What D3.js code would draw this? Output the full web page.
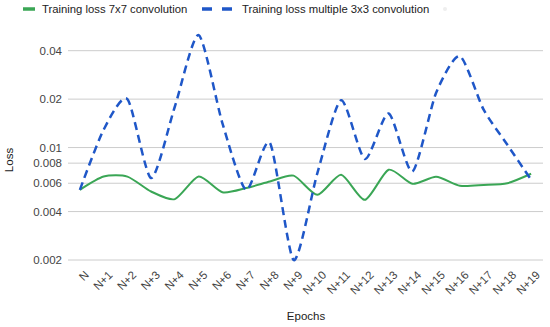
<!DOCTYPE html>
<html>
<head>
<meta charset="utf-8">
<script src="https://cdn.jsdelivr.net/npm/d3@7"></script>
<style>
  body { margin: 0; background: #fff; }
  svg { font-family: "Liberation Sans", Arial, sans-serif; }
</style>
</head>
<body>
<svg width="550" height="327"></svg>
<script>
// data
var epochs = ["N", "N+1", "N+2", "N+3", "N+4", "N+5", "N+6", "N+7", "N+8", "N+9",
  "N+10", "N+11", "N+12", "N+13", "N+14", "N+15", "N+16", "N+17", "N+18", "N+19"];
var loss7x7 = [0.00546, 0.0066, 0.0066, 0.00533, 0.00478, 0.0066, 0.00528, 0.0056, 0.00615, 0.00669,
  0.00508, 0.00677, 0.00473, 0.00728, 0.00595, 0.00658, 0.00579, 0.00585, 0.006, 0.00687];
var loss3x3 = [0.00546, 0.0129, 0.02, 0.00646, 0.018, 0.05, 0.0142, 0.00546, 0.0107, 0.002,
  0.00694, 0.0197, 0.00849, 0.0163, 0.0071, 0.0219, 0.037, 0.0172, 0.0104, 0.0063];
var yTicks = [0.002, 0.004, 0.006, 0.008, 0.01, 0.02, 0.04];
var seriesNames = ["Training loss 7x7 convolution", "Training loss multiple 3x3 convolution"];

var svg = d3.select("svg");
var green = "#3aa655", blue = "#1f57c8";

var x = d3.scalePoint().domain(epochs).range([68, 543]).padding(0.5);
var y = d3.scaleLog().domain([0.002, 0.04]).range([260, 50.7]);

// gridlines + y labels
var grid = svg.append("g");
grid.selectAll("line")
  .data(yTicks)
  .enter()
  .append("line")
  .attr("x1", 68).attr("x2", 543)
  .attr("y1", function (d) { return y(d); })
  .attr("y2", function (d) { return y(d); })
  .attr("stroke", "#cccccc")
  .attr("stroke-width", 1);
grid.selectAll("text")
  .data(yTicks)
  .enter()
  .append("text")
  .attr("x", 62)
  .attr("y", function (d) { return y(d); })
  .attr("dy", "0.35em")
  .attr("text-anchor", "end")
  .attr("font-size", 11.5)
  .attr("fill", "#444")
  .text(function (d) { return d3.format("")(d); });

// x labels, rotated
svg.append("g").selectAll("text")
  .data(epochs)
  .enter()
  .append("text")
  .attr("transform", function (d) { return "translate(" + (x(d) + 4) + ",270) rotate(-45)"; })
  .attr("text-anchor", "end")
  .attr("dy", "0.7em")
  .attr("font-size", 11.5)
  .attr("fill", "#444")
  .text(function (d) { return d; });

// axis titles
svg.append("text")
  .attr("x", 306).attr("y", 320)
  .attr("text-anchor", "middle")
  .attr("font-size", 11.5)
  .attr("fill", "#222")
  .text("Epochs");
svg.append("text")
  .attr("transform", "translate(13,160) rotate(-90)")
  .attr("text-anchor", "middle")
  .attr("font-size", 11.5)
  .attr("fill", "#222")
  .text("Loss");

// lines
var line = d3.line()
  .x(function (d, i) { return x(epochs[i]); })
  .y(function (d) { return y(d); })
  .curve(d3.curveCardinal.tension(0.3));

svg.append("path")
  .datum(loss7x7)
  .attr("d", line)
  .attr("fill", "none")
  .attr("stroke", green)
  .attr("stroke-width", 2);
svg.append("path")
  .datum(loss3x3)
  .attr("d", line)
  .attr("fill", "none")
  .attr("stroke", blue)
  .attr("stroke-width", 2.5)
  .attr("stroke-dasharray", "8,5");

// legend
var legend = svg.append("g");
legend.append("line")
  .attr("x1", 23).attr("x2", 35).attr("y1", 9).attr("y2", 9)
  .attr("stroke", green).attr("stroke-width", 3.5);
legend.append("text")
  .attr("x", 42).attr("y", 9).attr("dy", "0.35em")
  .attr("font-size", 11.3).attr("fill", "#222")
  .text(seriesNames[0]);
legend.append("line")
  .attr("x1", 202).attr("x2", 234).attr("y1", 9).attr("y2", 9)
  .attr("stroke", blue).attr("stroke-width", 3.5)
  .attr("stroke-dasharray", "10,10");
legend.append("text")
  .attr("x", 242).attr("y", 9).attr("dy", "0.35em")
  .attr("font-size", 11.3).attr("fill", "#222")
  .text(seriesNames[1]);
legend.append("circle")
  .attr("cx", 445).attr("cy", 9).attr("r", 2)
  .attr("fill", "#eeeeee");
</script>
</body>
</html>
